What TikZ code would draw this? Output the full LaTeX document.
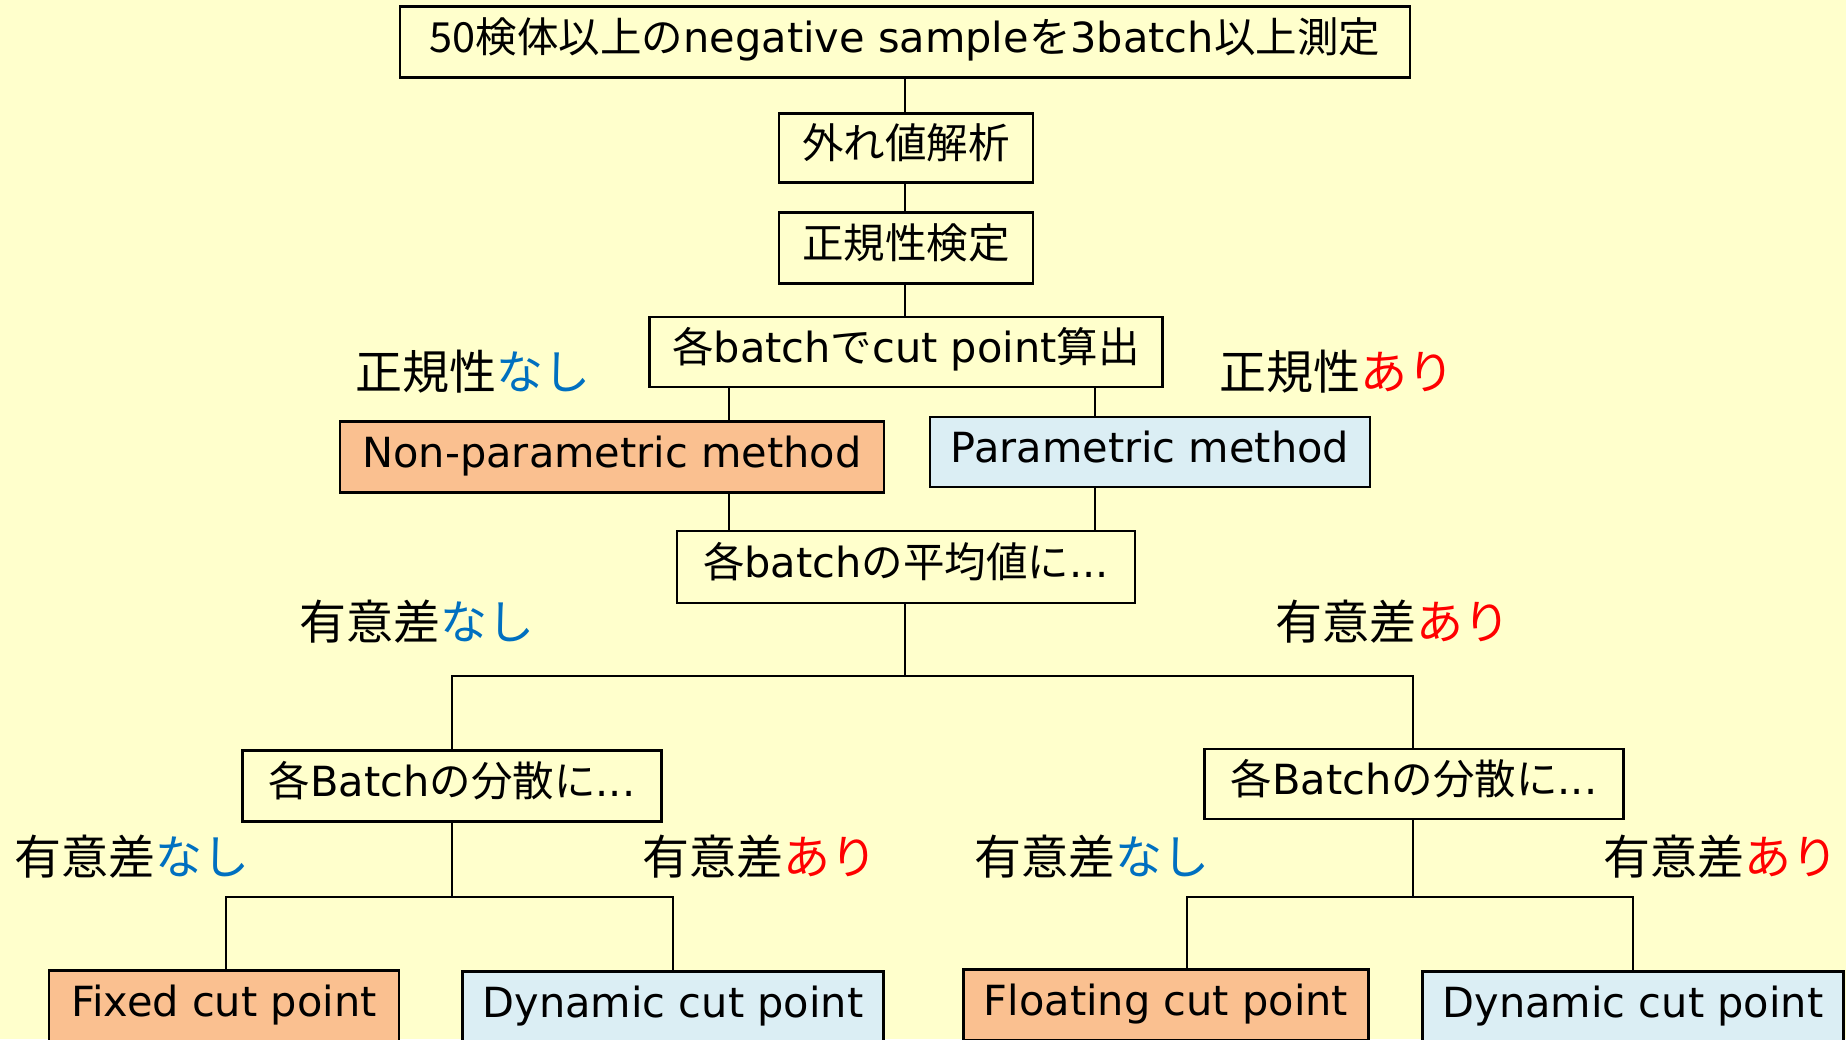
\documentclass[tikz,border=0pt]{standalone}
\usepackage{fontspec}
\setmainfont{DejaVu Sans}
\newfontfamily\jp{Noto Sans CJK JP}
\newcommand{\J}[1]{{\jp #1}}
\definecolor{bg}{HTML}{FFFFCC}
\definecolor{orng}{HTML}{FAC090}
\definecolor{lblue}{HTML}{DBEEF4}
\definecolor{nblue}{HTML}{0070C0}
\definecolor{ared}{HTML}{FF0000}
\begin{document}
\begin{tikzpicture}[x=1pt,y=-1pt,
  box/.style={draw=black, line width=2.5pt, fill=bg, inner sep=0pt, text height=34pt, text depth=12.4pt, font=\fontsize{41.5}{50}\selectfont},
  lab/.style={inner sep=0pt, font=\fontsize{47}{56}\selectfont\jp},
  conn/.style={line width=2pt}]
\fill[bg] (0,0) rectangle (1846,1039);
\clip (0,0) rectangle (1846,1039);
\useasboundingbox (0,0) rectangle (1846,1039);

\node[box, minimum width=1010pt, minimum height=71pt] (top) at (905,42) {\J{50検体以上の}negative sample\J{を}3batch\J{以上測定}};
\node[box, minimum width=254pt, minimum height=69pt] (out) at (906,148) {\J{外れ値解析}};
\node[box, minimum width=254pt, minimum height=71pt] (norm) at (906,248) {\J{正規性検定}};
\node[box, minimum width=513pt, minimum height=70pt] (cut) at (906,352) {\J{各}batch\J{で}cut point\J{算出}};
\node[box, fill=orng, minimum width=544pt, minimum height=71pt] (np) at (612,457) {Non-parametric method};
\node[box, fill=lblue, minimum width=440pt, minimum height=70pt] (pm) at (1150,452) {Parametric method};
\node[box, minimum width=458pt, minimum height=72pt] (mean) at (906,567) {\J{各}batch\J{の平均値に}...};
\node[box, minimum width=419pt, minimum height=71pt] (varL) at (452,786) {\J{各}Batch\J{の分散に}...};
\node[box, minimum width=419pt, minimum height=70pt] (varR) at (1414,784) {\J{各}Batch\J{の分散に}...};
\node[box, fill=orng, minimum width=350pt, minimum height=71pt] (fix) at (224,1006) {Fixed cut point};
\node[box, fill=lblue, minimum width=421pt, minimum height=71pt] (dynL) at (673,1007) {Dynamic cut point};
\node[box, fill=orng, minimum width=405pt, minimum height=71pt] (flo) at (1166,1005) {Floating cut point};
\node[box, fill=lblue, minimum width=421pt, minimum height=71pt] (dynR) at (1633,1007) {Dynamic cut point};

\node[lab] (l1) at (473,372) {正規性\textcolor{nblue}{なし}};
\node[lab] (l2) at (1337,372) {正規性\textcolor{ared}{あり}};
\node[lab] (l3) at (417,622) {有意差\textcolor{nblue}{なし}};
\node[lab] (l4) at (1393,622) {有意差\textcolor{ared}{あり}};
\node[lab] (l5) at (132,857) {有意差\textcolor{nblue}{なし}};
\node[lab] (l6) at (760,857) {有意差\textcolor{ared}{あり}};
\node[lab] (l7) at (1092,857) {有意差\textcolor{nblue}{なし}};
\node[lab] (l8) at (1721,857) {有意差\textcolor{ared}{あり}};

\coordinate (xT) at (905,0);
\coordinate (xL) at (729,0);
\coordinate (xR) at (1095,0);
\coordinate (j1) at (905,676);
\coordinate (j2) at (452,897);
\coordinate (j3) at (1413,897);
\coordinate (xF) at (226,0);
\coordinate (xD) at (673,0);
\coordinate (xG) at (1187,0);
\coordinate (xE) at (1633,0);

\draw[conn] (top.south -| xT) -- (out.north -| xT);
\draw[conn] (out.south -| xT) -- (norm.north -| xT);
\draw[conn] (norm.south -| xT) -- (cut.north -| xT);
\draw[conn] (cut.south -| xL) -- (np.north -| xL);
\draw[conn] (cut.south -| xR) -- (pm.north -| xR);
\draw[conn] (np.south -| xL) -- (mean.north -| xL);
\draw[conn] (pm.south -| xR) -- (mean.north -| xR);
\draw[conn] (mean.south -| j1) -- (j1);
\draw[conn] (varL.north -| j2) -- (j2 |- j1) -- (j3 |- j1) -- (varR.north -| j3);
\draw[conn] (varL.south -| j2) -- (j2);
\draw[conn] (fix.north -| xF) -- (xF |- j2) -- (xD |- j2) -- (dynL.north -| xD);
\draw[conn] (varR.south -| j3) -- (j3);
\draw[conn] (flo.north -| xG) -- (xG |- j3) -- (xE |- j3) -- (dynR.north -| xE);
\end{tikzpicture}
\end{document}
